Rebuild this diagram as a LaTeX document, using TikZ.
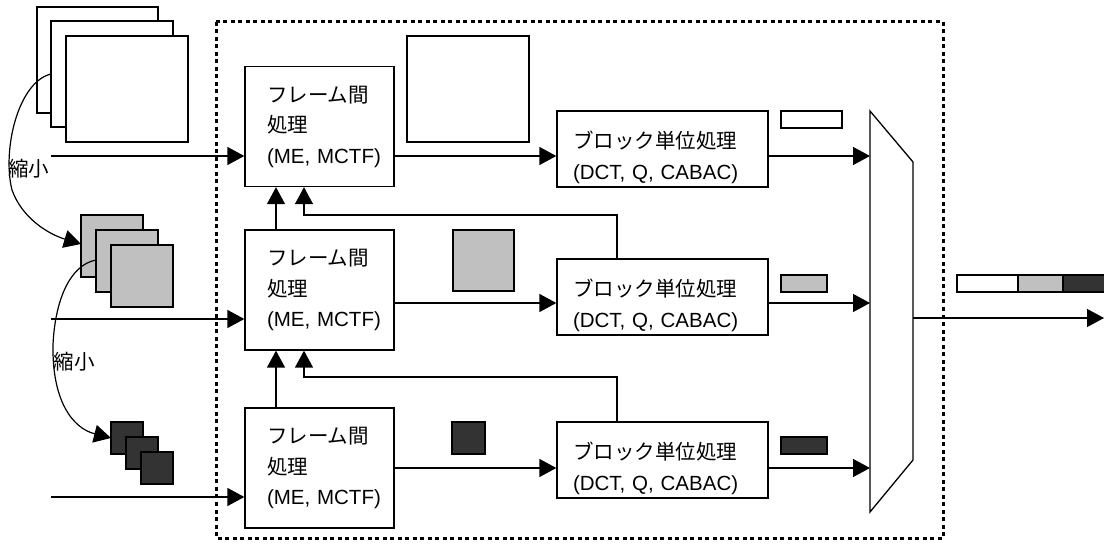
\documentclass[tikz,border=0pt]{standalone}
\usepackage{fontspec}
\setmainfont{Liberation Sans}
\newfontfamily\jp{Noto Sans CJK JP}
\usetikzlibrary{arrows.meta}
\definecolor{lgray}{HTML}{C0C0C0}
\definecolor{dgray}{HTML}{333333}
\tikzset{
  txt/.style={font=\fontsize{20.5}{30.5}\selectfont},
  framebox/.style={draw, line width=1.3pt, fill=white, minimum width=149pt, minimum height=120pt, inner xsep=22pt, text width=105pt, align=left, txt},
  blockbox/.style={draw, line width=1.3pt, fill=white, minimum width=211pt, minimum height=76pt, inner xsep=16pt, inner ysep=0pt, text width=179pt, align=left, txt},
  pic/.style={draw, line width=1.3pt},
  conn/.style={line width=1.3pt},
  arr/.style={line width=1.3pt, -{Triangle[length=17pt,width=18pt]}},
  dotbox/.style={line width=3pt, dash pattern=on 4pt off 3.5pt},
  lbl/.style={inner sep=0pt, font=\fontsize{20.5}{24}\selectfont\jp}
}
\newcommand{\frametext}{{\jp フレーム間}\\{\jp 処理}\\\mbox{(ME, MCTF)}}
\newcommand{\blocktext}{\rule{0pt}{34pt}{\jp ブロック単位処理}\\(DCT, Q, CABAC)}
\begin{document}
\begin{tikzpicture}[x=1pt,y=-1pt]
\useasboundingbox (0,0) rectangle (1104,545);
% dotted enclosure
\draw[dotbox] (216,22) rectangle (943,538);
% input frames (white)
\draw[pic, fill=white] (37,7) rectangle (158,113);
\draw[pic, fill=white] (51,21) rectangle (173,127);
\draw[pic, fill=white] (66,36) rectangle (188,142);
% gray frames
\draw[pic, fill=lgray] (81,215) rectangle (143,277);
\draw[pic, fill=lgray] (96,230) rectangle (158,292);
\draw[pic, fill=lgray] (111,245) rectangle (173,307);
% dark frames
\draw[pic, fill=dgray] (111,422) rectangle (143,454);
\draw[pic, fill=dgray] (126,437) rectangle (158,469);
\draw[pic, fill=dgray] (141,452) rectangle (173,484);
% downscale curves
\coordinate (c1s) at (51,74);
\coordinate (c1e) at (81,244);
\coordinate (c2s) at (96,260);
\coordinate (c2e) at (111,438);
\draw[arr, line width=1.2pt] (c1s) .. controls (18,82) and (2,150) .. (12,190) .. controls (22,218) and (48,234) .. (c1e);
\draw[arr, line width=1.2pt] (c2s) .. controls (70,265) and (55,300) .. (53,345) .. controls (52,400) and (72,428) .. (c2e);
\node[lbl] (s1) at (29,169) {縮小};
\node[lbl] (s2) at (74,362) {縮小};
% frame processing boxes
\node[framebox] (f1) at (319.5,126.5) {\frametext};
\node[framebox] (f2) at (319.5,290) {\frametext};
\node[framebox] (f3) at (319.5,468) {\frametext};
% block processing boxes
\node[blockbox] (b1) at (662.5,149) {\blocktext};
\node[blockbox] (b2) at (662.5,297) {\blocktext};
\node[blockbox] (b3) at (662.5,460) {\blocktext};
% intermediate pictures
\draw[pic, fill=white] (407,36) rectangle (529,142);
\draw[pic, fill=lgray] (453,230) rectangle (514,291);
\draw[pic, fill=dgray] (452,422) rectangle (485,454);
% bitstream bars
\draw[pic, fill=white] (781,111) rectangle (842,128);
\draw[pic, fill=lgray] (781,275) rectangle (827,292);
\draw[pic, fill=dgray] (781,437) rectangle (827,454);
% multiplexer
\draw[line width=1.3pt, fill=white] (870,111) -- (913,162) -- (913,460) -- (870,512) -- cycle;
\coordinate (mux) at (870,311);
\coordinate (muxout) at (913,318);
\coordinate (outend) at (1104,318);
% output stream
\draw[pic, fill=white] (957,275) rectangle (1018,292);
\draw[pic, fill=lgray] (1018,275) rectangle (1063,292);
\draw[pic, fill=dgray] (1063,275) rectangle (1108,292);
% inputs
\coordinate (i1) at (51,156);
\coordinate (i2) at (51,319);
\coordinate (i3) at (51,497);
\draw[arr] (i1) -- (f1.west |- i1);
\draw[arr] (i2) -- (f2.west |- i2);
\draw[arr] (i3) -- (f3.west |- i3);
% frame -> block
\draw[arr] (f1.east |- 0,156) -- (b1.west |- 0,156);
\draw[arr] (f2.east |- 0,303) -- (b2.west |- 0,303);
\draw[arr] (f3.east |- 0,468) -- (b3.west |- 0,468);
% block -> mux
\draw[arr] (b1.east |- 0,156) -- (mux |- 0,156);
\draw[arr] (b2.east |- 0,303) -- (mux |- 0,303);
\draw[arr] (b3.east |- 0,468) -- (mux |- 0,468);
% mux output
\draw[arr] (muxout) -- (outend);
% vertical links
\draw[arr] (f2.north -| 276,0) -- (f1.south -| 276,0);
\draw[arr] (f3.north -| 276,0) -- (f2.south -| 276,0);
% feedback
\draw[arr] (b2.north -| 617,0) -- (617,215) -- (304,215) -- (f1.south -| 304,0);
\draw[arr] (b3.north -| 617,0) -- (617,377) -- (304,377) -- (f2.south -| 304,0);
\end{tikzpicture}
\end{document}
